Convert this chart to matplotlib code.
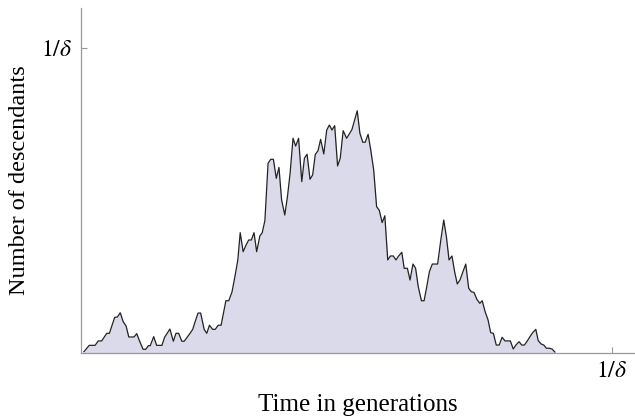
import matplotlib
matplotlib.use("Agg")
import matplotlib.pyplot as plt

plt.rcParams['font.family'] = ['Liberation Serif', 'DejaVu Serif']
plt.rcParams['mathtext.fontset'] = 'stix'

# 1/delta taken as 200 on both axes
inv_delta = 200

gen = [1.1, 3.1, 5.3, 6.5, 7.8, 9.7, 10.7, 12.7, 13.7, 14.8, 15.9, 17.0, 18.0, 20.0,
       21.0, 22.1, 23.4, 24.4, 25.4, 26.1, 27.4, 28.5, 30.5, 31.5, 33.5, 34.8, 35.8,
       36.8, 38.0, 38.9, 41.1, 42.1, 43.1, 44.1, 45.1, 46.4, 47.4, 48.4, 49.6, 50.6,
       51.7, 52.8, 54.6, 55.7, 56.9, 58.0, 59.1, 60.0, 61.1, 62.2, 63.2, 64.2, 65.2,
       66.2, 67.4, 68.3, 69.3, 70.5, 71.5, 72.5, 73.6, 74.6, 75.6, 76.8, 77.8, 78.8,
       79.9, 80.9, 82.0, 83.2, 84.2, 85.2, 86.3, 87.3, 88.3, 89.3, 90.3, 91.5, 92.6,
       93.6, 94.6, 95.6, 96.7, 97.7, 98.8, 100.1, 101.0, 102.1, 103.1, 104.1, 105.1,
       106.2, 107.1, 108.2, 109.2, 110.3, 111.4, 112.4, 113.5, 114.5, 115.6, 116.6,
       117.7, 118.7, 119.7, 120.9, 121.8, 123.0, 124.0, 125.1, 126.1, 127.1, 128.3,
       129.3, 130.3, 131.3, 132.4, 133.4, 134.4, 135.6, 136.7, 137.7, 138.7, 139.8,
       140.8, 141.8, 142.8, 145.0, 146.1, 147.1, 148.1, 149.2, 150.3, 151.2, 152.3,
       153.4, 154.4, 155.4, 156.5, 157.6, 158.7, 159.8, 160.8, 161.8, 162.9, 163.9,
       165.1, 166.1, 167.1, 168.2, 169.2, 170.2, 171.4, 172.3, 173.4, 174.4, 175.4,
       176.5, 177.5, 178.6]
descendants = [0.5, 4.7, 4.7, 7.6, 7.6, 12.6, 12.6, 23.1, 23.3, 26.1, 20.2, 17.4, 10.2, 10.2,
               12.4, 7.4, 2.1, 2.1, 4.5, 4.5, 10.4, 4.7, 4.7, 10.0, 15.4, 7.4, 12.6,
               12.6, 7.4, 7.4, 12.6, 15.2, 20.7, 25.9, 25.9, 15.2, 12.6, 17.9, 15.2, 15.2,
               17.9, 17.9, 34.0, 34.0, 39.7, 49.8, 60.8, 78.7, 66.2, 70.6, 73.9, 73.9, 78.7,
               66.2, 76.5, 78.7, 86.6, 124.3, 126.9, 126.9, 114.4, 121.6, 100.2, 90.3, 102.3, 117.7,
               140.7, 135.6, 140.7, 112.2, 127.6, 130.2, 113.8, 116.6, 130.2, 132.4, 140.0, 130.4, 146.1,
               149.4, 146.1, 149.0, 122.5, 127.6, 145.7, 140.7, 143.3, 146.4, 152.7, 158.8, 144.0,
               138.1, 138.1, 143.3, 133.0, 119.9, 95.8, 93.4, 85.3, 89.8, 60.8, 63.4,
               63.4, 60.8, 63.4, 65.8, 55.3, 55.3, 47.6, 58.1, 55.3, 43.2, 34.0,
               34.0, 43.2, 53.1, 58.1, 58.1, 58.1, 73.9, 87.0, 76.1, 60.8, 63.4,
               53.1, 45.0, 47.6, 58.1, 42.2, 39.9, 39.5, 34.9, 32.3, 34.0, 26.8,
               21.4, 13.0, 12.6, 4.9, 4.9, 10.0, 7.6, 7.6, 7.6, 2.3, 4.9,
               7.1, 4.9, 4.9, 7.6, 10.4, 13.0, 15.2, 7.8, 5.6, 4.9, 2.8,
               2.8, 2.3, 0.3]

fig = plt.figure(figsize=(6.35, 4.18), dpi=100)
ax = fig.add_axes([81 / 635, 65.5 / 418, 554 / 635, 344.5 / 418])

ax.fill_between(gen, descendants, 0, color='#dadaeb', linewidth=0)
ax.plot(gen, descendants, color='#222222', linewidth=0.9)

ax.set_xlim(0, inv_delta * 554 / 530.7)
ax.set_ylim(0, inv_delta * 344.5 / 304.5)

for s in ['top', 'right']:
    ax.spines[s].set_visible(False)
for s in ['left', 'bottom']:
    ax.spines[s].set_color('#999999')
    ax.spines[s].set_linewidth(0.9)

ax.set_xticks([inv_delta])
ax.set_xticklabels([r'$1/\delta$'])
ax.set_yticks([inv_delta])
ax.set_yticklabels([r'$1/\delta$'])
ax.tick_params(direction='in', length=4, width=0.8, color='#999999',
               labelsize=17, pad=6)

ax.set_xlabel('Time in generations', fontsize=18, labelpad=9)
ax.set_ylabel('Number of descendants', fontsize=17.5, labelpad=8)

fig.savefig('out.png', dpi=100)
